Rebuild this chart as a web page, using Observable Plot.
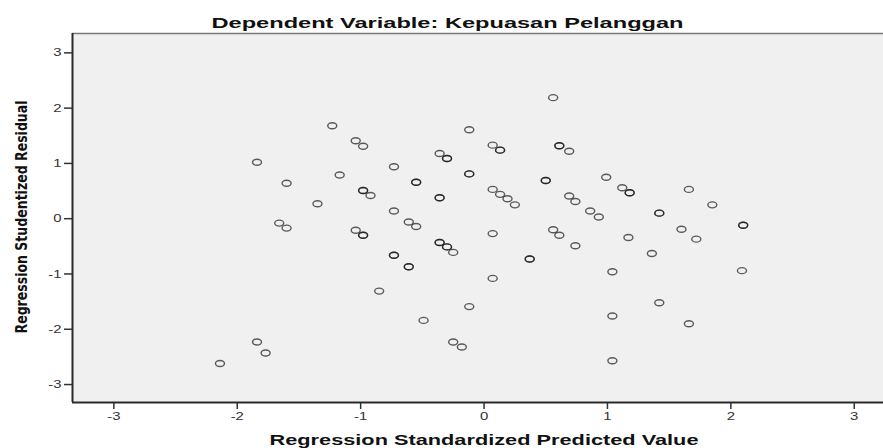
<!DOCTYPE html>
<html>
<head>
<meta charset="utf-8">
<script src="https://cdn.jsdelivr.net/npm/d3@7"></script>
<script src="https://cdn.jsdelivr.net/npm/@observablehq/plot@0.6"></script>
<style>
  body { margin: 0; background: #ffffff; }
  #chart svg { display: block; }
</style>
</head>
<body>
<div id="chart"></div>
<script>
// Regression Standardized Predicted Value (x) per plotted position
const predicted = [
  -1.23, -1.04, -0.98, -1.84, -0.73, -1.17, -1.60, -0.55, -0.98, -0.92,
  -1.35, -0.73, -1.66, -1.60, -0.61, -0.55, -1.04, -0.98, -0.73, -0.61,
  -0.85, -0.49, -1.84, -1.77, -2.14,
   0.56, -0.12,  0.07,  0.13,  0.61,  0.69, -0.36, -0.30, -0.12,  0.50,
   0.99,  1.12,  1.18,  1.66,  1.85, -0.36,  0.07,  0.13,  0.19,  0.25,
   0.69,  0.74,  0.86,  0.93,  1.42,  2.10,  0.07,  0.56,  0.61,  1.17,
   1.60,  1.72, -0.36, -0.30, -0.25,  0.74,  1.36,  0.37,  0.07,  1.04,
  -0.12,  1.42,  1.04,  1.66, -0.25, -0.18,  1.04,  2.09
];
// Regression Studentized Residual (y) per plotted position
const residual = [
   1.68,  1.41,  1.31,  1.02,  0.94,  0.79,  0.64,  0.66,  0.51,  0.42,
   0.27,  0.14, -0.08, -0.17, -0.06, -0.14, -0.21, -0.30, -0.66, -0.87,
  -1.31, -1.84, -2.23, -2.43, -2.62,
   2.19,  1.61,  1.33,  1.24,  1.32,  1.22,  1.18,  1.09,  0.81,  0.69,
   0.75,  0.56,  0.47,  0.53,  0.25,  0.38,  0.53,  0.44,  0.36,  0.25,
   0.41,  0.31,  0.14,  0.03,  0.10, -0.12, -0.27, -0.20, -0.30, -0.34,
  -0.19, -0.37, -0.43, -0.51, -0.61, -0.49, -0.63, -0.73, -1.08, -0.96,
  -1.59, -1.52, -1.76, -1.90, -2.23, -2.32, -2.57, -0.94
];
// number of overlapping cases drawn at each position (darker circles)
const cases = [
  1, 1, 1, 1, 1, 1, 1, 2, 2, 1,
  1, 1, 1, 1, 1, 1, 1, 2, 2, 2,
  1, 1, 1, 1, 1,
  1, 1, 1, 2, 2, 1, 1, 2, 2, 2,
  1, 1, 2, 1, 1, 2, 1, 1, 1, 1,
  1, 1, 1, 1, 2, 2, 1, 1, 1, 1,
  1, 1, 2, 2, 1, 1, 1, 2, 1, 1,
  1, 1, 1, 1, 1, 1, 1, 1
];
const xTicks = [-3, -2, -1, 0, 1, 2, 3];
const yTicks = [-3, -2, -1, 0, 1, 2, 3];
const titleText = "Dependent Variable: Kepuasan Pelanggan";
const xLabel = "Regression Standardized Predicted Value";
const yLabel = "Regression Studentized Residual";

const data = [];
predicted.forEach((x, i) => {
  for (let k = 0; k < cases[i]; k++) data.push({x, y: residual[i]});
});

const xDomain = [-3.335, 3.237];
const yDomain = [-3.325, 3.35];

// horizontally stretched circle (the source image is stretched)
const ellipse = {
  draw(ctx, size) {
    const r = Math.sqrt(size / Math.PI);
    const rx = r * 1.5, ry = r, k = 0.5523;
    ctx.moveTo(rx, 0);
    ctx.bezierCurveTo(rx, k * ry, k * rx, ry, 0, ry);
    ctx.bezierCurveTo(-k * rx, ry, -rx, k * ry, -rx, 0);
    ctx.bezierCurveTo(-rx, -k * ry, -k * rx, -ry, 0, -ry);
    ctx.bezierCurveTo(k * rx, -ry, rx, -k * ry, rx, 0);
    ctx.closePath();
  }
};

const fontFam = "'Liberation Sans', Arial, sans-serif";

const chart = Plot.plot({
  width: 883,
  height: 448,
  marginLeft: 72,
  marginRight: 0,
  marginTop: 33,
  marginBottom: 46,
  style: {background: "#ffffff", fontFamily: fontFam, color: "#222"},
  x: {domain: xDomain, axis: null},
  y: {domain: yDomain, axis: null},
  marks: [
    Plot.frame({fill: "#f0f0f0", stroke: null}),
    Plot.ruleY([yDomain[1]], {stroke: "#7a7a7a", strokeWidth: 1.5}),
    Plot.axisX({ticks: xTicks, tickFormat: d => String(d), label: null, tickSize: 7, tickPadding: 3, fontSize: 11, stroke: "#333", strokeWidth: 1.5, fill: "#333"}),
    Plot.axisY({ticks: yTicks, tickFormat: d => String(d), label: null, tickSize: 8, tickPadding: 3, fontSize: 11, stroke: "#333", strokeWidth: 1.5, fill: "#333"}),
    Plot.ruleX([xDomain[0]], {stroke: "#2a2a2a", strokeWidth: 2}),
    Plot.ruleY([yDomain[0]], {stroke: "#2a2a2a", strokeWidth: 2}),
    Plot.dot(data, {x: "x", y: "y", r: 3, symbol: ellipse, stroke: "#111", strokeOpacity: 0.68, strokeWidth: 1.4, fill: "none"}),
    Plot.text([titleText], {frameAnchor: "top", text: d => d, dx: -30.5, dy: -6, lineAnchor: "bottom", textAnchor: "middle", fontSize: 15, fontWeight: "bold", fill: "#111"}),
    Plot.text([xLabel], {frameAnchor: "bottom", text: d => d, dx: 6, dy: 42.7, lineAnchor: "bottom", textAnchor: "middle", fontSize: 15, fontWeight: "bold", fill: "#111"}),
    Plot.text([yLabel], {frameAnchor: "left", text: d => d, rotate: -90, dx: -46, dy: -1, lineAnchor: "bottom", textAnchor: "middle", fontSize: 15, fontWeight: "bold", fill: "#111", fontFamily: "'Liberation Sans Narrow', 'DejaVu Sans Condensed', 'Liberation Sans', sans-serif"})
  ]
});

document.getElementById("chart").appendChild(chart);

// stretch texts to match the horizontally stretched source picture
const stretch = {};
stretch[titleText] = 472;
stretch[xLabel] = 429;
stretch[yLabel] = 233;
d3.select(chart).selectAll("text").each(function () {
  const t = this.textContent;
  if (stretch[t] != null) {
    this.setAttribute("textLength", stretch[t]);
    this.setAttribute("lengthAdjust", "spacingAndGlyphs");
  }
});
d3.select(chart).selectAll('g[aria-label="x-axis tick label"] text, g[aria-label="y-axis tick label"] text').each(function () {
  const w = this.getComputedTextLength();
  this.setAttribute("textLength", (w * 1.35).toFixed(1));
  this.setAttribute("lengthAdjust", "spacingAndGlyphs");
});
</script>
</body>
</html>
